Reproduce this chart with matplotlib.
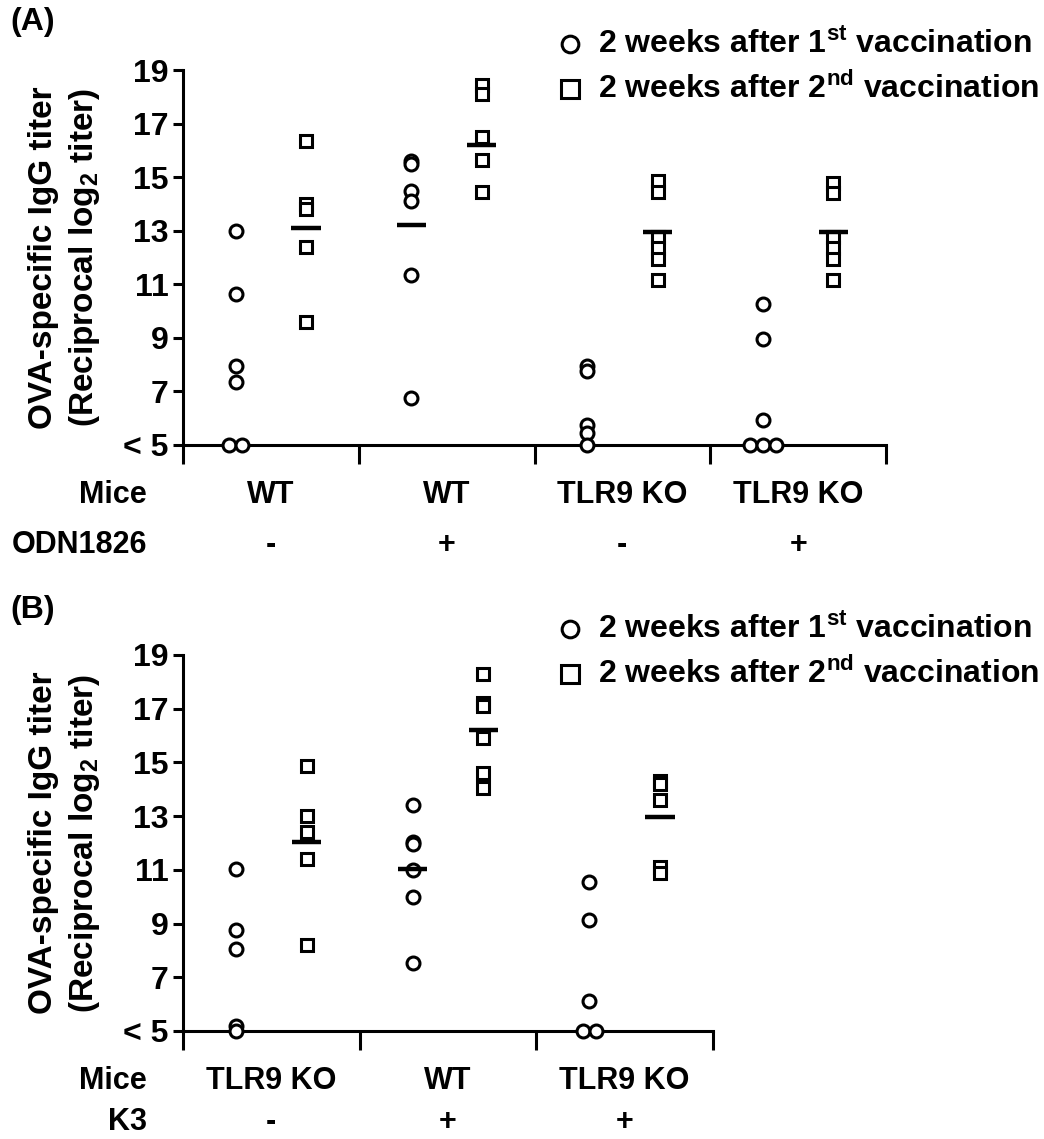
import numpy as np
import matplotlib
matplotlib.use("Agg")
import matplotlib.pyplot as plt
from matplotlib.lines import Line2D
import matplotlib.transforms as mtransforms

plt.rcParams["font.family"] = ["Liberation Sans", "DejaVu Sans"]
plt.rcParams["font.weight"] = "bold"
plt.rcParams["mathtext.fontset"] = "custom"
plt.rcParams["mathtext.rm"] = "Liberation Sans:bold"
plt.rcParams["mathtext.bf"] = "Liberation Sans:bold"

# ---- panel A data (log2 titers, "< 5" plotted at 5) ----
mice_a = ["WT", "WT", "TLR9 KO", "TLR9 KO"]
odn_a = ["-", "+", "-", "+"]
first_a = [
    [13.0, 10.65, 7.95, 7.35, 5.0, 5.0],
    [15.6, 15.5, 14.5, 14.1, 11.35, 6.75],
    [7.95, 7.75, 5.75, 5.45, 5.0],
    [10.25, 8.95, 5.95, 5.0, 5.0, 5.0],
]
second_a = [
    [16.35, 14.0, 13.8, 12.4, 9.6],
    [18.45, 18.1, 16.5, 15.65, 14.45],
    [14.85, 14.45, 12.75, 12.35, 11.95, 11.15],
    [14.8, 14.4, 12.75, 12.35, 11.95, 11.15],
]
mean_first_a = [None, 13.2, None, None]
mean_second_a = [13.1, 16.2, 12.95, 12.95]

# ---- panel B data ----
mice_b = ["TLR9 KO", "WT", "TLR9 KO"]
k3_b = ["-", "+", "+"]
first_b = [
    [11.05, 8.75, 8.05, 5.2, 5.0],
    [13.4, 12.05, 11.95, 11.0, 10.0, 7.55],
    [10.55, 9.15, 6.1, 5.0, 5.0],
]
second_b = [
    [14.85, 13.0, 12.4, 11.4, 8.2],
    [18.3, 17.2, 17.1, 15.9, 14.6, 14.05],
    [14.3, 14.2, 13.6, 11.1, 10.9],
]
mean_first_b = [None, 11.05, None]
mean_second_b = [12.05, 16.2, 12.95]

yticks = [5, 7, 9, 11, 13, 15, 17, 19]
yticklabels = ["< 5", "7", "9", "11", "13", "15", "17", "19"]
legend_labels = ["2 weeks after 1$^{\\mathbf{st}}$ vaccination",
                 "2 weeks after 2$^{\\mathbf{nd}}$ vaccination"]

W, H = 1044, 1139
fig = plt.figure(figsize=(W / 100, H / 100), dpi=100)

LW = 2.2
FS_TICK = 23
FS_LAB = 24
FS_LEG = 23
FS_ROW = 22


def spread(vals, base, dx=0.075):
    # put identical values side by side
    xs = []
    vals = list(vals)
    for i, v in enumerate(vals):
        same = [j for j, w in enumerate(vals) if w == v]
        k = same.index(i)
        xs.append(base + (k - (len(same) - 1) / 2) * dx)
    return xs


def panel(rect, first, second, mfirst, msecond, mice, treat, treat_name,
          leg_y, letter, letter_y, row_gap):
    ax = fig.add_axes(rect)
    n = len(first)
    for i in range(n):
        xc, xs_ = i + 0.3, i + 0.7
        ax.plot(spread(first[i], xc), first[i], "o", ms=9.3, mfc="white",
                mec="black", mew=LW, clip_on=False, zorder=3)
        ax.plot(spread(second[i], xs_), second[i], "s", ms=8.3, mfc="white",
                mec="black", mew=LW, clip_on=False, zorder=3)
        if mfirst[i] is not None:
            ax.hlines(mfirst[i], xc - 0.083, xc + 0.083, color="black",
                      lw=3.2, zorder=4)
        if msecond[i] is not None:
            ax.hlines(msecond[i], xs_ - 0.083, xs_ + 0.083, color="black",
                      lw=3.2, zorder=4)
    ax.set_xlim(0, n)
    ax.set_ylim(5, 19)
    ax.set_xticks(range(n + 1))
    ax.set_xticklabels([])
    ax.set_yticks(yticks)
    ax.set_yticklabels(yticklabels, fontsize=FS_TICK, fontweight="bold")
    for s in ["top", "right"]:
        ax.spines[s].set_visible(False)
    for s in ["left", "bottom"]:
        ax.spines[s].set_linewidth(LW)
    ax.tick_params(axis="y", length=7.2, width=LW, pad=3)
    ax.tick_params(axis="x", length=13.5, width=LW)

    # y label (two lines)
    pos = ax.get_position()
    yc = (pos.y0 + pos.y1) / 2
    fig.text(44 / W, yc, "OVA-specific IgG titer", rotation=90,
             ha="center", va="center", fontsize=FS_LAB, fontweight="bold")
    fig.text(85 / W, yc, "(Reciprocal log$_{\\mathbf{2}}$ titer)",
             rotation=90, ha="center", va="center", fontsize=FS_LAB,
             fontweight="bold")

    # group label rows
    tr = mtransforms.blended_transform_factory(ax.transData, fig.transFigure)
    row1 = pos.y0 - 50 / H
    row2 = pos.y0 - row_gap / H
    fig.text(147 / W, row1, "Mice", ha="right", va="center",
             fontsize=FS_ROW, fontweight="bold")
    fig.text(147 / W, row2, treat_name, ha="right", va="center",
             fontsize=FS_ROW, fontweight="bold")
    for i in range(n):
        ax.text(i + 0.5, row1, mice[i], transform=tr, ha="center",
                va="center", fontsize=FS_ROW, fontweight="bold")
        ax.text(i + 0.5, row2, treat[i], transform=tr, ha="center",
                va="center", fontsize=FS_ROW, fontweight="bold")

    # legend
    for k, (mk, ms) in enumerate([("o", 12), ("s", 13)]):
        y = 1 - (leg_y + 45 * k) / H
        fig.add_artist(Line2D([570 / W], [y], marker=mk, ms=ms,
                              mfc="white", mec="black", mew=LW,
                              transform=fig.transFigure))
        fig.text(598 / W, y, legend_labels[k], ha="left", va="center",
                 fontsize=FS_LEG, fontweight="bold")

    fig.text(10 / W, 1 - letter_y / H, letter, ha="left", va="center",
             fontsize=FS_LEG, fontweight="bold")
    return ax


panel([183 / W, 1 - 445 / H, 703 / W, 375 / H], first_a, second_a,
      mean_first_a, mean_second_a, mice_a, odn_a, "ODN1826",
      44, "(A)", 22, 100)
panel([183 / W, 1 - 1031 / H, 530 / W, 376 / H], first_b, second_b,
      mean_first_b, mean_second_b, mice_b, k3_b, "K3",
      629, "(B)", 610, 91)

fig.savefig("out.png", dpi=100)
